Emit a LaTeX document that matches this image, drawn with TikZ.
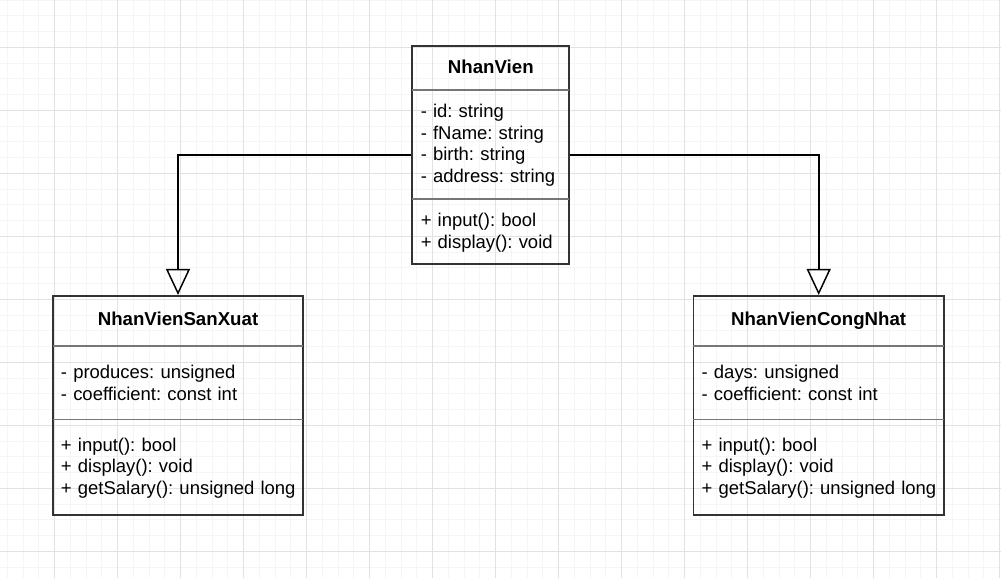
\documentclass[tikz,border=0pt]{standalone}
\usepackage{fontspec}
\setmainfont{Liberation Sans}
\usetikzlibrary{arrows.meta}
\definecolor{gridminor}{RGB}{245,245,245}
\definecolor{gridmajor}{RGB}{226,226,226}
\definecolor{boxline}{RGB}{51,51,51}
\definecolor{sepline}{RGB}{118,118,118}
\tikzset{
  classbox/.style={draw=boxline, line width=1.3pt, fill=none, inner sep=0pt},
  sepl/.style={draw=sepline, line width=1.1pt},
  members/.style={anchor=base west, inner sep=0pt, align=left, text width=260pt,
    font=\fontsize{13.85}{16.3}\selectfont\frenchspacing},
  title/.style={anchor=base, inner sep=0pt, font=\fontsize{14}{16.3}\selectfont\bfseries},
  gen/.style={draw=black, line width=1.3pt, -{Triangle[open, length=19.5pt, width=18pt, line width=1.1pt]}}
}
\begin{document}
\begin{tikzpicture}[x=0.75pt, y=-0.75pt]
\useasboundingbox (0,0) rectangle (1001,578);
\fill[white] (0,0) rectangle (1001,578);
% grid
\foreach \i in {0,...,64} {
  \draw[gridminor, line width=0.75pt] ({7.3+15.75*\i},0) -- ({7.3+15.75*\i},578);
}
\foreach \i in {0,...,37} {
  \draw[gridminor, line width=0.75pt] (0,{15.75*\i}) -- (1001,{15.75*\i});
}
\foreach \i in {0,...,15} {
  \draw[gridmajor, line width=0.75pt] ({54.3+63*\i},0) -- ({54.3+63*\i},578);
}
\foreach \i in {0,...,9} {
  \draw[gridmajor, line width=0.75pt] (0,{47.3+63*\i}) -- (1001,{47.3+63*\i});
}

% NhanVien
\node[classbox, minimum width=117.75pt, minimum height=163.95pt] (nv) at (490.8,155) {};
\draw[sepl] (412.3,90) -- (569.3,90);
\draw[sepl] (412.3,199) -- (569.3,199);
\node[title] (nvt) at (490.8,73.3) {NhanVien};
\node[members] (nva) at (420.5,117.5) {- id: string\\- fName: string\\- birth: string\\- address: string};
\node[members] (nvm) at (420.5,226.5) {+ input(): bool\\+ display(): void};

% NhanVienSanXuat
\node[classbox, minimum width=187.95pt, minimum height=164.25pt] (sx) at (178,405.3) {};
\draw[sepl] (52.7,346) -- (303.3,346);
\draw[sepl] (52.7,419.3) -- (303.3,419.3);
\node[title] (sxt) at (178,325.5) {NhanVienSanXuat};
\node[members] (sxa) at (60.7,378.5) {- produces: unsigned\\- coefficient: const int};
\node[members] (sxm) at (60.7,451) {+ input(): bool\\+ display(): void\\+ getSalary(): unsigned long};

% NhanVienCongNhat
\node[classbox, minimum width=187.95pt, minimum height=164.25pt] (cn) at (818.7,405.3) {};
\draw[sepl] (693.4,346) -- (944,346);
\draw[sepl] (693.4,419.3) -- (944,419.3);
\node[title] (cnt) at (818.7,325.5) {NhanVienCongNhat};
\node[members] (cna) at (701.4,378.5) {- days: unsigned\\- coefficient: const int};
\node[members] (cnm) at (701.4,451) {+ input(): bool\\+ display(): void\\+ getSalary(): unsigned long};

% generalizations
\draw[gen] (nv.west) -| (sx.north);
\draw[gen] (nv.east) -| (cn.north);
\end{tikzpicture}
\end{document}
